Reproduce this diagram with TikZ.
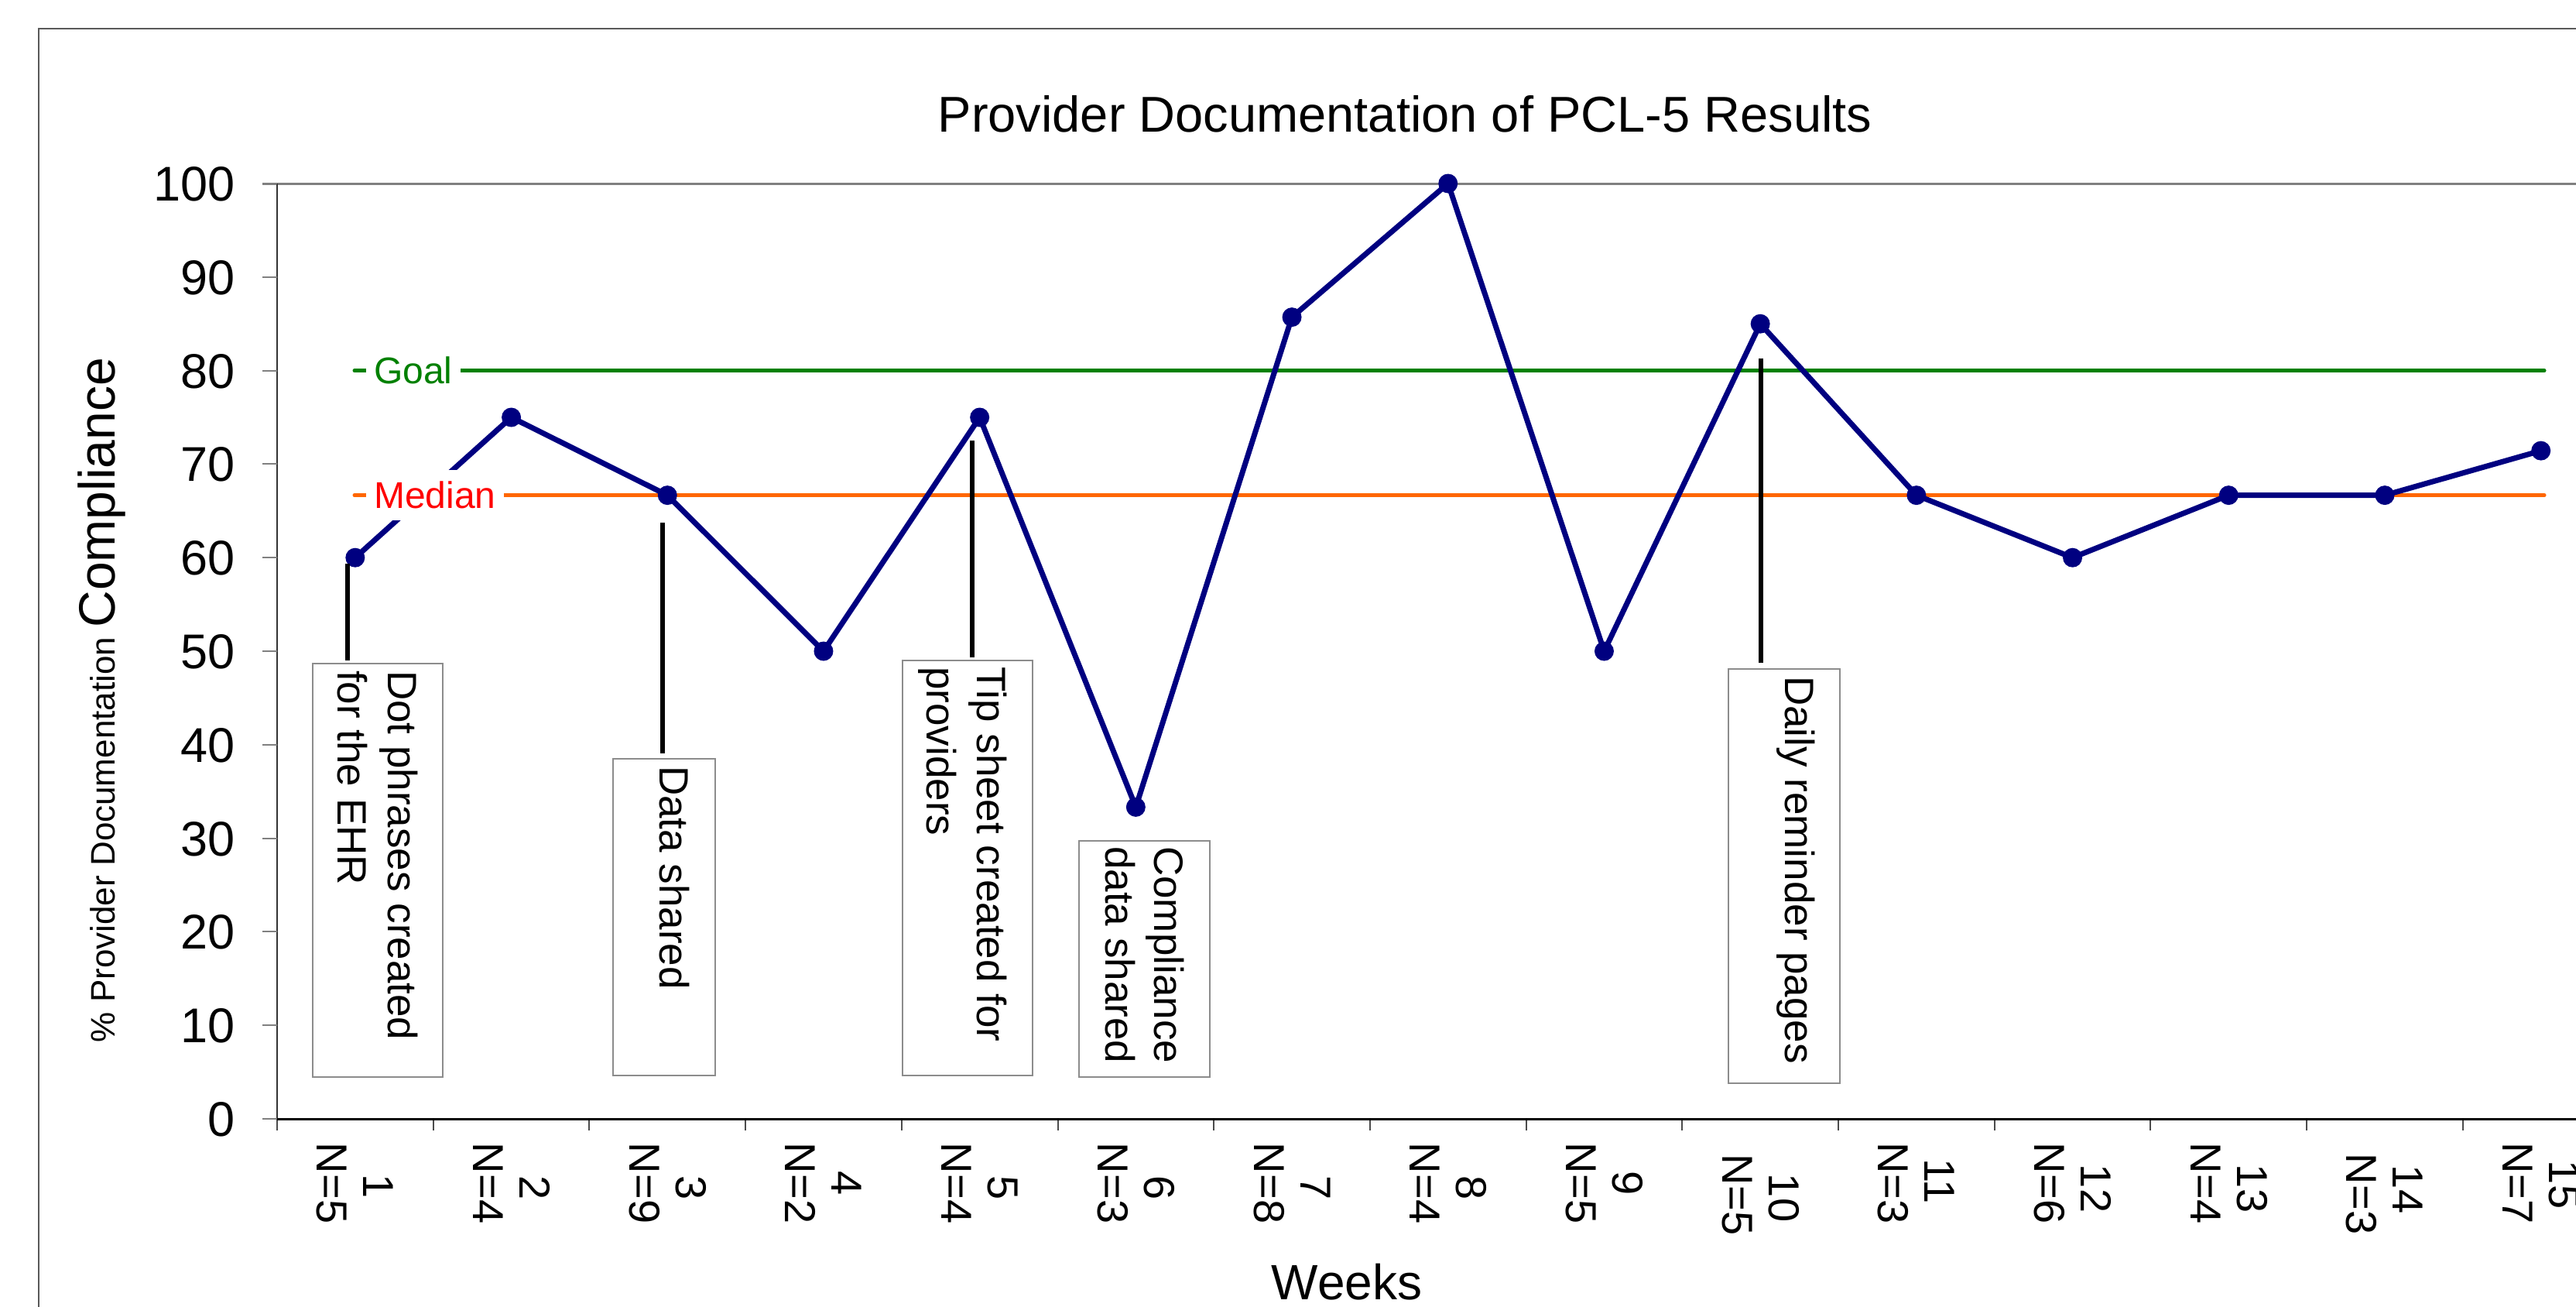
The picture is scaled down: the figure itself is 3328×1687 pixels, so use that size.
\documentclass[tikz,border=0pt]{standalone}
\usepackage{fontspec}
\setmainfont{Liberation Sans}
\definecolor{navy}{HTML}{000080}
\definecolor{goalg}{HTML}{008000}
\definecolor{medo}{HTML}{FF6600}
\definecolor{medr}{HTML}{FF0000}
\definecolor{boxgray}{HTML}{8C8C8C}
\definecolor{axgray}{HTML}{808080}
\begin{document}
\begin{tikzpicture}[x=1pt,y=-1pt,
  ann/.style={draw=boxgray, line width=2.5pt, fill=white, inner sep=0pt},
  anntext/.style={rotate=-90, anchor=west, inner sep=0pt, text height=38pt, text depth=0pt, font=\fontsize{53}{60}\selectfont},
  conn/.style={line width=6pt, black},
  dot/.style={circle, fill=navy, inner sep=0pt, minimum size=25pt},
  xlab/.style={rotate=-90, inner sep=0pt, text height=40pt, text depth=0pt, font=\fontsize{56}{60}\selectfont},
  ylab/.style={anchor=east, inner sep=0pt, text height=45pt, text depth=0pt, font=\fontsize{63}{70}\selectfont},
  reflab/.style={anchor=west, fill=white, inner xsep=10pt, inner ysep=0pt, minimum height=65pt, font=\fontsize{48}{55}\selectfont}]
\useasboundingbox (0,0) rectangle (3328,1687);
\fill[white] (0,0) rectangle (3328,1687);
\clip (0,0) rectangle (3328,1687);
% outer frame
\draw[line width=2pt, gray!70!black] (50,37) rectangle (3420,1780);
% title
\node[anchor=base, inner sep=0pt, font=\fontsize{65}{70}\selectfont] (title) at (1815,170) {Provider Documentation of PCL-5 Results};
% axes
\draw[axgray, line width=3pt] (339,237) -- (3420,237);
\draw[gray!40!black, line width=2.5pt] (358,237) -- (358,1445);
\foreach \v in {0,10,...,100} {
  \draw[axgray, line width=2pt] (339,{1445-12.08*\v}) -- (358,{1445-12.08*\v});
  \node[ylab] (yl\v) at (304,{1445-12.08*\v}) {\v};
}
\foreach \k in {0,...,16} {
  \draw[gray!60!black, line width=2pt] ({358+201.7*\k},1445) -- ({358+201.7*\k},1460);
}
\draw[black, line width=3pt] (358,1445) -- (3420,1445);
% axis titles
\node[rotate=90, anchor=base, inner sep=0pt] (ytitle) at (148,904) {{\fontsize{44}{50}\selectfont \% Provider Documentation }{\fontsize{66}{70}\selectfont Compliance}};
\node[anchor=base, inner sep=0pt, font=\fontsize{64}{70}\selectfont] (xtitle) at (1740,1678) {Weeks};
% x labels
\foreach \i/\n/\ny/\Ny in {1/5/1532/1528, 2/4/1534/1528, 3/9/1534/1528, 4/2/1528/1528, 5/4/1534/1528,
  6/3/1534/1528, 7/8/1534/1528, 8/4/1534/1528, 9/5/1528/1528, 10/5/1547/1543,
  11/3/1526/1528, 12/6/1535/1528, 13/4/1535/1528, 14/3/1536/1542, 15/7/1530/1528} {
  \node[xlab] (wk\i) at ({358+201.7*(\i-0.5)+31},\ny) {\i};
  \node[xlab] (nn\i) at ({358+201.7*(\i-0.5)-29},\Ny) {N=\n};
}
% goal and median lines
\draw[goalg, line width=5pt, line cap=round] (458,478.6) -- (3287,478.6);
\draw[medo, line width=5pt, line cap=round] (458,639.6) -- (3287,639.6);
% data
\foreach \i/\v in {1/60, 2/75, 3/66.67, 4/50, 5/75, 6/33.33, 7/85.71, 8/100, 9/50, 10/85,
  11/66.67, 12/60, 13/66.67, 14/66.67, 15/71.43} {
  \coordinate (c\i) at ({358+201.7*(\i-0.5)},{1445-12.08*\v});
}
\draw[navy, line width=7pt, line join=round] (c1) \foreach \i in {2,...,15} { -- (c\i) };
% reference labels
\node[reflab, text=goalg] (goal) at (473,478.6) {Goal};
\node[reflab, text=medr] (median) at (473,639.6) {Median};
% markers
\foreach \i in {1,...,15} { \node[dot] (p\i) at (c\i) {}; }
% annotation boxes
\node[ann, minimum width=168pt, minimum height=534pt] (b1) at (488,1124) {};
\node[ann, minimum width=132pt, minimum height=409pt] (b2) at (858,1184.5) {};
\node[ann, minimum width=168pt, minimum height=536pt] (b3) at (1250,1121) {};
\node[ann, minimum width=169pt, minimum height=305pt] (b4) at (1478.5,1238.5) {};
\node[ann, minimum width=144pt, minimum height=535pt] (b5) at (2305,1131.5) {};
\node[anntext] (b1l1) at (520,866) {Dot phrases created};
\node[anntext] (b1l2) at (455,866) {for the EHR};
\node[anntext] (b2l1) at (871,989) {Data shared};
\node[anntext] (b3l1) at (1281,861) {Tip sheet created for};
\node[anntext] (b3l2) at (1216,861) {providers};
\node[anntext] (b4l1) at (1510,1093) {Compliance};
\node[anntext] (b4l2) at (1447,1093) {data shared};
\node[anntext] (b5l1) at (2325,873) {Daily reminder pages};
% connectors
\coordinate (t1) at (449,728);
\coordinate (t2) at (856,675);
\coordinate (t3) at (1256,569);
\coordinate (t5) at (2275,463);
\draw[conn] (t1) -- ([yshift=3pt]t1 |- b1.north);
\draw[conn] (t2) -- ([yshift=6pt]t2 |- b2.north);
\draw[conn] (t3) -- ([yshift=3pt]t3 |- b3.north);
\draw[conn] (t5) -- ([yshift=7pt]t5 |- b5.north);
\end{tikzpicture}
\end{document}
